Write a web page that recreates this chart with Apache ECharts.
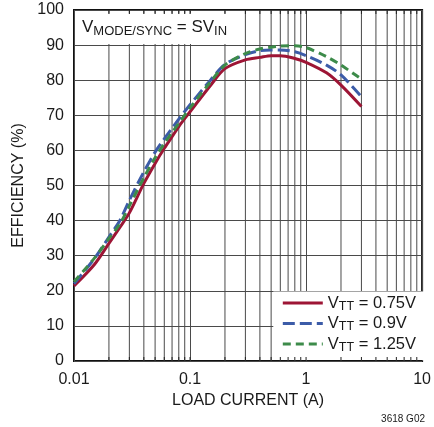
<!DOCTYPE html>
<html><head><meta charset="utf-8">
<script src="https://cdn.jsdelivr.net/npm/echarts@6/dist/echarts.min.js"></script>
<style>html,body{margin:0;padding:0;background:#fff}#c{width:434px;height:427px}</style>
</head><body><div id="c"></div>
<script>
// ---- data ----
const currentRed   = [0.01, 0.015, 0.02, 0.025, 0.03, 0.04, 0.05, 0.06, 0.07, 0.08, 0.1, 0.15, 0.2, 0.3, 0.4, 0.5, 0.6, 0.8, 1, 1.5, 2, 3];
const effRed       = [21.4, 27.5, 33.5, 38.2, 42.2, 50.6, 56.3, 60.6, 63.9, 66.8, 71, 78.5, 83.3, 85.8, 86.5, 87, 87, 86.2, 85.1, 82.1, 78.6, 72.5];
const currentBlue  = [0.01, 0.015, 0.02, 0.025, 0.03, 0.04, 0.05, 0.06, 0.07, 0.08, 0.1, 0.15, 0.2, 0.3, 0.4, 0.5, 0.6, 0.8, 1, 1.5, 2, 3];
const effBlue      = [22, 29.2, 35.3, 40.2, 45.8, 53.9, 59.5, 63.3, 66.3, 68.9, 73, 80, 84.5, 87.3, 88.4, 88.6, 88.6, 88.1, 87, 84.3, 81.5, 75.3];
const currentGreen = [0.01, 0.015, 0.02, 0.025, 0.03, 0.04, 0.05, 0.06, 0.07, 0.08, 0.1, 0.15, 0.2, 0.3, 0.4, 0.5, 0.6, 0.8, 1, 1.5, 2, 3];
const effGreen     = [22.6, 29.3, 34.9, 39.2, 44.2, 52.2, 57.9, 62, 65.1, 67.7, 72.1, 79.5, 84.3, 87.6, 88.9, 89.4, 89.7, 89.8, 89.3, 86.7, 84.3, 80.3];
const seriesNames  = ['VTT = 0.75V', 'VTT = 0.9V', 'VTT = 1.25V'];
const legendSubs   = [['V', 'TT', ' = 0.75V'], ['V', 'TT', ' = 0.9V'], ['V', 'TT', ' = 1.25V']];
const xMinorGrid   = [0.02,0.03,0.04,0.05,0.06,0.07,0.08,0.09,0.2,0.3,0.4,0.5,0.6,0.7,0.8,0.9,2,3,4,5,6,7,8,9];
const xAllTicks    = [0.02,0.03,0.04,0.05,0.06,0.07,0.08,0.09,0.1,0.2,0.3,0.4,0.5,0.6,0.7,0.8,0.9,1,2,3,4,5,6,7,8,9];
const xTickLabels  = {0.01:'0.01', 0.1:'0.1', 1:'1', 10:'10'};

const zip = (a, b) => a.map((v, i) => [v, b[i]]);
const FONT = "'Liberation Sans', Arial, sans-serif";
const TXT = '#1a1a1a';

const chart = echarts.init(document.getElementById('c'), null, {renderer: 'canvas'});
const lineSeries = (name, data, color, type) => ({
  name, type: 'line', data, smooth: 0.3, symbol: 'none', z: 5,
  lineStyle: {color, width: 3, type}, itemStyle: {color}
});

chart.setOption({
  animation: false,
  grid: {left: 74, right: 9, top: 10, bottom: 66, show: true, borderColor: '#111', borderWidth: 2, backgroundColor: 'transparent'},
  title: {
    text: '{b|V}{s|MODE/SYNC}{b| = SV}{s|IN}',
    left: 75, top: 11, z: 3,
    backgroundColor: '#fff', padding: [5, 5, 6, 7],
    textStyle: {fontWeight: 'normal', rich: {
      b: {fontFamily: FONT, fontWeight: 'normal', fontSize: 17, color: TXT, lineHeight: 22, verticalAlign: 'middle'},
      s: {fontFamily: FONT, fontWeight: 'normal', fontSize: 13, color: TXT, lineHeight: 12, verticalAlign: 'bottom'}
    }}
  },
  legend: {
    data: seriesNames, orient: 'vertical', right: 10, bottom: 67, z: 3,
    backgroundColor: '#fff', padding: [3, 8, 6, 8], itemGap: 2,
    itemWidth: 40, itemHeight: 14,
    itemStyle: {opacity: 0},
    lineStyle: {width: 3},
    formatter: name => { const p = legendSubs[seriesNames.indexOf(name)]; return '{b|' + p[0] + '}{s|' + p[1] + '}{b|' + p[2] + '}'; },
    textStyle: {rich: {
      b: {fontFamily: FONT, fontSize: 16.5, color: TXT, lineHeight: 20, verticalAlign: 'middle'},
      s: {fontFamily: FONT, fontSize: 12.5, color: TXT, lineHeight: 12, verticalAlign: 'bottom'}
    }}
  },
  xAxis: {
    type: 'log', logBase: 10, min: 0.01, max: 10,
    name: 'LOAD CURRENT (A)', nameLocation: 'middle', nameGap: 28,
    nameTextStyle: {fontFamily: FONT, fontSize: 16, color: TXT},
    axisLine: {show: false}, axisTick: {show: false},
    axisLabel: {margin: 11, fontFamily: FONT, fontSize: 16, color: TXT, formatter: v => xTickLabels[+v.toPrecision(3)] ?? String(v)},
    splitLine: {show: true, lineStyle: {color: '#4a4a4a', width: 1}}
  },
  yAxis: {
    type: 'value', min: 0, max: 100, interval: 10,
    name: 'EFFICIENCY (%)', nameLocation: 'middle', nameGap: 46,
    nameTextStyle: {fontFamily: FONT, fontSize: 16, color: TXT},
    axisLine: {show: false}, axisTick: {show: false},
    axisLabel: {margin: 10, fontFamily: FONT, fontSize: 16, color: TXT},
    splitLine: {show: true, lineStyle: {color: '#4a4a4a', width: 1}}
  },
  graphic: [{type: 'text', right: 9, top: 414, style: {text: '3618 G02', fontFamily: FONT, fontSize: 10, fill: TXT}}],
  series: [
    {
      name: 'minorGrid', type: 'custom', z: 1, silent: true, clip: false,
      data: xMinorGrid.map(v => [v, 0]), encode: {x: 0, y: 1},
      renderItem: (params, api) => {
        const x = api.value(0);
        const a = api.coord([x, 0]), b = api.coord([x, 100]);
        return {type: 'line', shape: {x1: a[0], y1: a[1], x2: b[0], y2: b[1]}, style: {stroke: '#4a4a4a', lineWidth: 1}};
      }
    },
    lineSeries(seriesNames[0], zip(currentRed, effRed), '#9d1535', 'solid'),
    lineSeries(seriesNames[1], zip(currentBlue, effBlue), '#3c5ca8', [12, 5]),
    lineSeries(seriesNames[2], zip(currentGreen, effGreen), '#3d8b4a', [8, 5]),
    {
      name: 'ticks', type: 'custom', z: 10, silent: true, clip: false,
      data: xAllTicks.map(v => [v, 0]), encode: {x: 0, y: 1},
      renderItem: (params, api) => {
        const x = api.value(0);
        const a = api.coord([x, 0]), b = api.coord([x, 100]);
        return {type: 'group', children: [
          {type: 'line', shape: {x1: a[0], y1: a[1], x2: a[0], y2: a[1] - 4}, style: {stroke: '#222', lineWidth: 1}},
          {type: 'line', shape: {x1: b[0], y1: b[1], x2: b[0], y2: b[1] + 4}, style: {stroke: '#222', lineWidth: 1}}
        ]};
      }
    }
  ]
});
</script></body></html>
